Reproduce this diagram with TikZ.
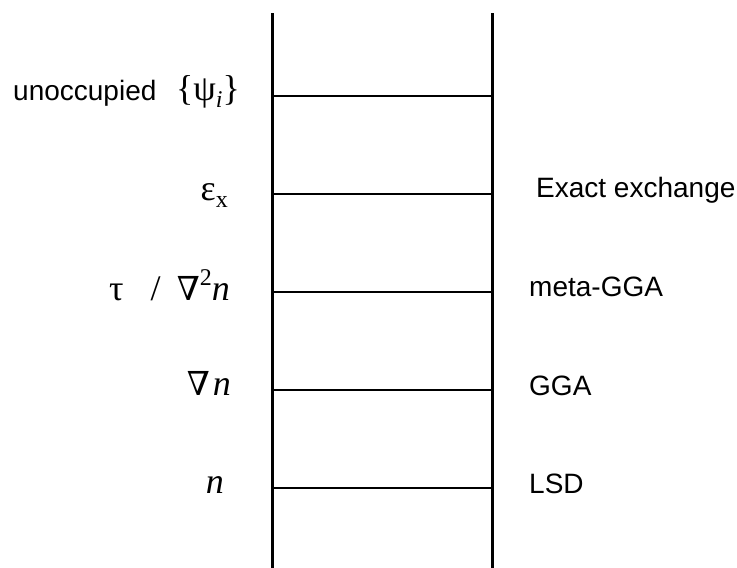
\documentclass[tikz,border=0pt]{standalone}
\usepackage{fontspec}
\setmainfont{Liberation Sans}
\newfontfamily\sr{Liberation Serif}
\newfontfamily\dvs{DejaVu Serif}
\newcommand{\sbx}[1]{\raisebox{-0.2em}{\fontsize{24}{24}\selectfont #1}}
\newcommand{\spx}[1]{\raisebox{0.4em}{\fontsize{24}{24}\selectfont #1}}
\newcommand{\nab}{{\dvs\fontsize{33}{36}\selectfont ∇}}
\begin{document}
\begin{tikzpicture}[x=1pt,y=-1pt,
  rail/.style={line width=3pt},
  rung/.style={line width=2.4pt},
  lab/.style={inner sep=0pt, font=\fontsize{28}{32}\selectfont},
  sym/.style={inner sep=0pt, font=\sr\fontsize{36}{40}\selectfont}]
\useasboundingbox (0,0) rectangle (737,568);
% rails
\coordinate (LT) at (272.5,13);
\coordinate (LB) at (272.5,568);
\coordinate (RT) at (492.5,13);
\coordinate (RB) at (492.5,568);
\draw[rail] (LT) -- (LB);
\draw[rail] (RT) -- (RB);
% rungs
\foreach \i/\y in {1/96,2/194,3/292,4/390,5/488}{
  \coordinate (L\i) at (272.5,\y);
  \coordinate (R\i) at (492.5,\y);
  \draw[rung] (L\i) -- (R\i);
}
% left labels
\node[lab, anchor=base west] (unocc) at (13,100.7) {unoccupied};
\node[sym, anchor=base east] (psi) at (240,100.7) {\{ψ\sbx{\itshape i}\}};
\node[sym, anchor=base east] (eps) at (228,200.7) {ε\sbx{x}};
\node[sym, anchor=base east] (tau) at (230,300) {τ\hspace{0.75em}/\hspace{0.45em}\nab\spx{2}\textit{n}};
\node[sym, anchor=base east] (grad) at (231,395) {\nab\hspace{0.08em}\textit{n}};
\node[sym, anchor=base east] (dens) at (224,493.3) {\textit{n}};
% right labels
\node[lab, anchor=base west] (exx) at (536,197.3) {Exact exchange};
\node[lab, anchor=base west] (mgga) at (529,296.7) {meta-GGA};
\node[lab, anchor=base west] (gga) at (529,395) {GGA};
\node[lab, anchor=base west] (lsd) at (529,493) {LSD};
\end{tikzpicture}
\end{document}
